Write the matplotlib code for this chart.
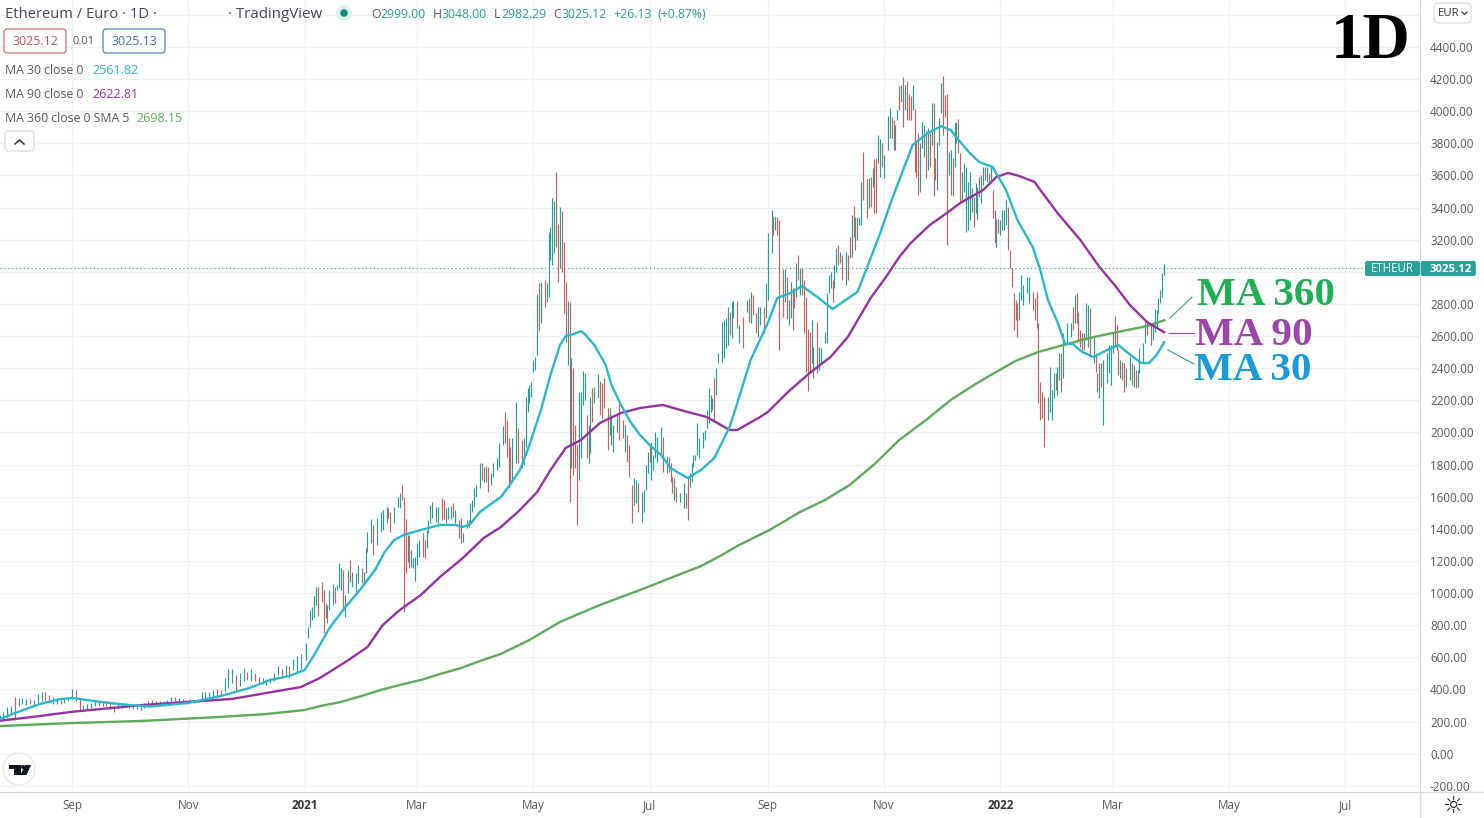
import pandas as pd
import matplotlib
matplotlib.use('Agg')
import matplotlib.pyplot as plt
from matplotlib.lines import Line2D
from matplotlib.patches import Circle, FancyBboxPatch, Polygon
from matplotlib.transforms import Affine2D

# day numbers count from 2020-09-01
start_date = pd.Timestamp('2020-09-01')

bar_day = [
    -38, -36, -34, -32, -30, -28, -26, -24, -22, -20, -18, -16, -14, -12, -10,
    -8, -6, -4, -2, 0, 2, 4, 6, 8, 10, 12, 14, 16, 18, 20,
    22, 24, 26, 28, 30, 32, 34, 36, 38, 40, 42, 44, 46, 48, 50,
    52, 54, 56, 58, 60, 62, 64, 66, 68, 70, 72, 74, 76, 78, 80,
    82, 84, 86, 88, 90, 92, 94, 96, 98, 100, 102, 104, 106, 108, 110,
    112, 114, 116, 118, 120,
    123, 124, 125, 126, 127, 128, 129, 131, 132, 133,
    134, 135, 137, 138, 139, 140, 141, 142, 143, 145,
    146, 147, 149, 150, 152, 153, 154, 155, 157, 158,
    160, 162, 163, 165, 166, 167, 169, 171, 172, 173,
    174, 175, 176, 177, 178, 179, 180, 181, 182, 184,
    185, 186, 187, 188, 189, 191, 192, 194, 195, 196,
    197, 199, 200, 201, 203, 204, 205, 207, 208, 209,
    210, 211, 212, 214, 215, 216, 217, 218, 220, 221,
    223, 224, 226, 227, 228, 229, 230, 231, 233, 234,
    236, 237, 238, 239, 240, 241, 242, 243, 244, 245,
    246, 248, 249, 250, 251, 252, 253, 254, 255, 256,
    257, 258, 259, 260, 261, 262, 263, 264, 265, 266,
    267, 268, 269, 270, 271, 272, 273, 274, 276, 277,
    278, 279, 281, 282, 283, 284, 286, 287, 289, 290,
    291, 292, 294, 295, 296, 297, 299, 300, 301, 302,
    303, 304, 305, 306, 307, 309, 310, 312, 313, 314,
    315, 316, 317, 319, 321, 322, 323, 324, 325, 326,
    327, 328, 329, 331, 332, 333, 334, 335, 336, 337,
    338, 339, 341, 342, 343, 344, 345, 346, 347, 349,
    350, 352, 354, 355, 356, 357, 359, 360, 361, 363,
    364, 365, 367, 368, 369, 370, 371, 373, 374, 375,
    376, 377, 378, 379, 380, 381, 382, 383, 384, 385,
    386, 387, 388, 389, 391, 392, 393, 395, 396, 397,
    398, 399, 400, 401, 402, 403, 404, 406, 407, 408,
    409, 410, 411, 412, 413, 414, 415, 417, 418, 419,
    420, 421, 422, 423, 424, 425, 426, 428, 429, 430,
    431, 432, 433, 434, 435, 436, 437, 438, 439, 440,
    441, 442, 443, 444, 445, 446, 447, 448, 449, 450,
    451, 452, 453, 454, 455, 456, 457, 458, 459, 460,
    461, 462, 463, 464, 465, 466, 467, 468, 469, 470,
    471, 472, 473, 474, 475, 476, 477, 478, 479, 480,
    481, 482, 483, 484, 485, 486, 487, 488, 489, 490,
    491, 492, 493, 494, 495, 496, 497, 498, 499, 501,
    502, 504, 505, 506, 507, 508, 509, 510, 512, 513,
    514, 515, 516, 517, 518, 519, 520, 522, 524, 525,
    526, 527, 528, 529, 530, 531, 532, 533, 534, 536,
    537, 538, 539, 540, 541, 543, 544, 545, 546, 547,
    548, 549, 550, 551, 552, 553, 555, 556, 557, 558,
    559, 560, 562, 563, 564, 566, 567, 568, 569, 570,
    571, 572, 573,
]

bar_high = [
    240, 260, 290, 300, 355, 345, 345, 340, 340, 335, 370, 385, 385, 365, 355,
    345, 335, 340, 355, 405, 395, 340, 305, 310, 315, 335, 330, 330, 325, 320,
    300, 310, 315, 315, 310, 305, 300, 300, 315, 325, 335, 325, 325, 325, 335,
    350, 350, 345, 340, 335, 340, 335, 340, 385, 385, 385, 395, 400, 395, 470,
    530, 525, 490, 505, 535, 510, 525, 500, 480, 470, 465, 470, 500, 545, 530,
    550, 545, 590, 610, 620,
    687, 791, 895, 916, 982, 1040, 1040, 1071, 1019, 940,
    926, 1019, 1056, 1040, 1050, 1185, 1154, 1144, 988, 1144,
    1206, 1133, 1123, 1175, 1154, 1133, 1279, 1382, 1459, 1424,
    1465, 1507, 1517, 1538, 1528, 1507, 1538, 1600, 1621, 1673,
    1600, 1459, 1362, 1362, 1268, 1216, 1227, 1310, 1330, 1372,
    1330, 1392, 1455, 1548, 1569, 1538, 1538, 1594, 1580, 1528,
    1538, 1542, 1563, 1517, 1455, 1465, 1372, 1455, 1455, 1559,
    1580, 1652, 1673, 1812, 1808, 1787, 1791, 1787, 1745, 1812,
    1839, 1932, 2040, 2129, 2077, 1963, 1907, 1963, 2192, 2026,
    1953, 1963, 2223, 2275, 2295, 2316, 2451, 2472, 2860, 2928,
    2939, 2949, 2928, 3250, 3281, 3457, 3441, 3619, 3296, 3406,
    3379, 3184, 2939, 2818, 2814, 2462, 2399, 2046, 1922, 2254,
    2254, 2383, 2368, 2109, 2046, 2223, 2275, 2285, 2362, 2320,
    2306, 2337, 2154, 2154, 2109, 2046, 2119, 2175, 2078, 2046,
    1984, 1922, 1673, 1715, 1704, 1683, 1632, 1642, 1798, 1880,
    1922, 1943, 1860, 2005, 1974, 2036, 1974, 1849, 1849, 1808,
    1725, 1715, 1663, 1621, 1683, 1621, 1715, 1745, 1808, 1860,
    1860, 2057, 1964, 2005, 2015, 2140, 2275, 2233, 2212, 2337,
    2399, 2493, 2690, 2700, 2711, 2783, 2752, 2814, 2818, 2818,
    2669, 2721, 2825, 2835, 2876, 2856, 2741, 2783, 2783, 2779,
    2928, 3240, 3385, 3343, 3343, 3339, 3322, 3015, 3015, 2966,
    2825, 2939, 2897, 2897, 3053, 3105, 3022, 3022, 2949, 2845,
    2642, 2627, 2700, 2534, 2690, 2534, 2524, 2627, 2866, 2980,
    3001, 2949, 3043, 3146, 3167, 3125, 3105, 3125, 3105, 3219,
    3354, 3410, 3343, 3343, 3333, 3561, 3743, 3577, 3582, 3588,
    3644, 3700, 3706, 3851, 3824, 3800, 3727, 3970, 4017, 3961,
    3945, 3914, 4007, 4156, 4163, 4210, 4163, 4190, 4107, 4094,
    4163, 4011, 3820, 3862, 3800, 3934, 3914, 3882, 3893, 3862,
    4053, 4053, 3706, 3810, 3955, 4173, 4219, 4100, 4107, 3748,
    3758, 3706, 3924, 3934, 3949, 3737, 3623, 3675, 3654, 3561,
    3623, 3519, 3467, 3551, 3530, 3592, 3602, 3654, 3654, 3654,
    3613, 3654, 3509, 3384, 3326, 3326, 3322, 3384, 3384, 3447,
    3405, 3135, 3021, 2866, 2824, 2804, 2876, 2980, 2918, 2970,
    2970, 2876, 2835, 2876, 2679, 2316, 2254, 2222, 2222, 2409,
    2264, 2368, 2368, 2409, 2492, 2492, 2617, 2679, 2679, 2783,
    2855, 2866, 2752, 2637, 2617, 2617, 2808, 2793, 2772, 2596,
    2492, 2368, 2430, 2430, 2451, 2492, 2544, 2544, 2627, 2725,
    2669, 2513, 2451, 2440, 2430, 2399, 2471, 2430, 2420, 2388,
    2388, 2523, 2554, 2689, 2696, 2679, 2689, 2766, 2762, 2835,
    2886, 2990, 3048,
]

bar_low = [
    205, 215, 225, 240, 210, 300, 310, 305, 310, 305, 310, 330, 325, 320, 310,
    310, 310, 315, 325, 340, 330, 270, 270, 275, 285, 295, 295, 300, 295, 280,
    260, 285, 285, 290, 285, 280, 280, 275, 285, 295, 305, 305, 300, 300, 305,
    320, 325, 320, 320, 315, 320, 315, 320, 335, 345, 355, 355, 360, 365, 385,
    410, 440, 385, 420, 450, 460, 455, 450, 440, 435, 430, 440, 450, 490, 470,
    490, 470, 520, 500, 530,
    584, 718, 791, 832, 853, 926, 857, 947, 750, 843,
    812, 895, 926, 936, 1019, 1030, 1019, 895, 853, 998,
    1071, 1040, 1009, 1065, 1061, 1050, 1123, 1258, 1310, 1237,
    1299, 1382, 1393, 1434, 1465, 1382, 1434, 1538, 1528, 1580,
    885, 1123, 1195, 1154, 1164, 1154, 1077, 1175, 1227, 1227,
    1216, 1279, 1372, 1434, 1465, 1445, 1434, 1455, 1459, 1438,
    1459, 1459, 1476, 1434, 1341, 1310, 1320, 1403, 1413, 1445,
    1507, 1538, 1600, 1652, 1704, 1694, 1694, 1631, 1673, 1725,
    1766, 1787, 1922, 1932, 1849, 1652, 1683, 1694, 1808, 1808,
    1777, 1797, 1911, 2129, 2181, 2220, 2374, 2389, 2480, 2634,
    2679, 2783, 2814, 2845, 3074, 3043, 3115, 3157, 2939, 3022,
    3001, 2742, 2565, 2420, 1569, 1777, 1735, 1777, 1424, 1704,
    1839, 2171, 2202, 1839, 1808, 1870, 2067, 2181, 2212, 2109,
    2088, 2150, 1891, 1984, 1922, 1880, 2005, 1953, 1964, 1880,
    1818, 1725, 1434, 1548, 1559, 1507, 1445, 1507, 1642, 1746,
    1818, 1704, 1766, 1839, 1818, 1860, 1756, 1746, 1756, 1694,
    1621, 1580, 1569, 1569, 1528, 1528, 1455, 1663, 1694, 1787,
    1829, 1860, 1839, 1901, 1953, 2026, 2057, 2130, 2140, 2067,
    2233, 2430, 2441, 2462, 2524, 2544, 2607, 2586, 2710, 2648,
    2555, 2524, 2752, 2690, 2679, 2731, 2617, 2597, 2669, 2617,
    2710, 2825, 3115, 3229, 3260, 3229, 2513, 2721, 2814, 2704,
    2669, 2710, 2638, 2773, 2845, 2949, 2856, 2856, 2617, 2378,
    2260, 2378, 2430, 2337, 2368, 2389, 2430, 2555, 2555, 2866,
    2897, 2814, 2897, 3001, 3042, 3053, 2949, 2918, 2949, 3084,
    3094, 3219, 3136, 3198, 3291, 3291, 3447, 3333, 3395, 3405,
    3530, 3364, 3364, 3675, 3592, 3654, 3582, 3758, 3831, 3831,
    3758, 3758, 3945, 4007, 4059, 3899, 4007, 3945, 3945, 3945,
    4007, 3623, 3592, 3478, 3499, 3768, 3717, 3582, 3634, 3654,
    3789, 3472, 3571, 3509, 3789, 3986, 3851, 3965, 3167, 3602,
    3478, 3472, 3654, 3800, 3737, 3426, 3447, 3499, 3250, 3260,
    3322, 3374, 3281, 3364, 3322, 3467, 3426, 3540, 3571, 3561,
    3550, 3550, 3333, 3177, 3156, 3239, 3229, 3260, 3260, 3291,
    3135, 3021, 2907, 2637, 2700, 2596, 2700, 2824, 2793, 2866,
    2804, 2762, 2700, 2648, 2181, 2077, 2088, 1911, 2077, 2129,
    2077, 2212, 2264, 2233, 2326, 2254, 2337, 2554, 2596, 2637,
    2679, 2679, 2575, 2534, 2513, 2513, 2575, 2534, 2471, 2430,
    2378, 2254, 2212, 2285, 2046, 2305, 2368, 2295, 2492, 2544,
    2513, 2357, 2337, 2326, 2254, 2285, 2326, 2295, 2285, 2274,
    2285, 2368, 2430, 2554, 2606, 2544, 2575, 2627, 2658, 2741,
    2803, 2845, 2982,
]

# 1 = closed up (teal), 0 = closed down (red)
bar_up = [
    1, 1, 1, 1, 0, 1, 1, 1, 0, 1, 1, 1, 0, 0, 1,
    1, 0, 1, 1, 1, 0, 0, 1, 1, 1, 1, 0, 1, 0, 0,
    0, 1, 0, 1, 0, 0, 1, 1, 1, 1, 1, 0, 0, 1, 1,
    1, 0, 1, 0, 0, 1, 0, 1, 1, 1, 1, 1, 0, 0, 1,
    1, 1, 0, 1, 1, 0, 1, 0, 0, 1, 1, 1, 1, 1, 0,
    1, 0, 1, 1, 1,
    1, 1, 1, 1, 1, 1, 0, 0, 0, 0,
    1, 1, 1, 0, 1, 1, 1, 0, 1, 1,
    0, 1, 1, 1, 0, 1, 1, 1, 1, 0,
    1, 1, 1, 1, 0, 0, 1, 1, 1, 0,
    0, 0, 1, 0, 1, 1, 1, 1, 1, 0,
    0, 1, 1, 1, 1, 1, 1, 0, 0, 1,
    1, 1, 0, 1, 0, 0, 1, 1, 1, 1,
    1, 1, 1, 1, 0, 1, 0, 0, 1, 1,
    1, 1, 1, 0, 0, 0, 0, 1, 1, 0,
    0, 1, 1, 1, 1, 1, 1, 1, 1, 0,
    1, 0, 1, 1, 1, 1, 1, 0, 0, 1,
    0, 0, 0, 1, 0, 1, 0, 0, 0, 1,
    1, 1, 1, 0, 1, 1, 0, 1, 1, 0,
    0, 0, 0, 1, 1, 1, 1, 0, 0, 1,
    0, 0, 0, 1, 1, 0, 1, 1, 1, 1,
    0, 1, 1, 1, 1, 1, 0, 1, 0, 0,
    0, 1, 0, 1, 1, 0, 0, 1, 1, 1,
    1, 1, 1, 1, 1, 1, 1, 1, 1, 0,
    1, 1, 1, 1, 1, 1, 0, 1, 1, 0,
    1, 0, 1, 0, 1, 0, 0, 1, 1, 0,
    1, 1, 1, 0, 1, 0, 0, 0, 1, 0,
    1, 1, 0, 0, 1, 0, 1, 0, 0, 0,
    0, 0, 1, 1, 0, 1, 1, 1, 1, 1,
    1, 0, 1, 1, 0, 1, 0, 1, 0, 0,
    1, 0, 0, 1, 1, 1, 0, 0, 1, 0,
    1, 0, 0, 1, 1, 0, 1, 1, 1, 0,
    0, 1, 1, 0, 1, 0, 1, 0, 0, 0,
    1, 0, 0, 0, 1, 1, 1, 0, 1, 0,
    1, 0, 0, 1, 1, 1, 0, 0, 0, 1,
    1, 0, 1, 1, 0, 0, 1, 1, 1, 1,
    1, 1, 0, 1, 1, 0, 1, 1, 0, 1,
    0, 1, 0, 0, 1, 0, 1, 1, 1, 1,
    0, 0, 0, 0, 0, 0, 1, 1, 1, 1,
    1, 0, 0, 0, 0, 0, 0, 0, 1, 1,
    1, 1, 0, 1, 1, 0, 1, 1, 1, 0,
    1, 0, 0, 0, 0, 1, 1, 1, 0, 1,
    0, 0, 1, 0, 1, 1, 1, 1, 1, 0,
    0, 0, 1, 0, 0, 1, 1, 0, 1, 0,
    1, 1, 1, 1, 0, 0, 1, 1, 1, 1,
    1, 1, 1,
]

ma30_day = [-38, -27, -17, -6, 0, 15, 30, 41, 61, 78, 93, 104, 114, 122, 127, 135, 143, 151, 159, 164,
            169, 174, 183, 193, 201, 205, 209, 214, 219, 225, 230, 235, 240, 246, 251, 256, 259, 263, 267, 269,
            274, 280, 283, 288, 293, 298, 303, 309, 314, 323, 330, 337, 345, 350, 356, 365, 370, 377, 383, 391,
            399, 412, 417, 424, 430, 436, 441, 449, 456, 461, 466, 471, 476, 483, 490, 496, 504, 508, 512, 517,
            521, 525, 530, 536, 543, 549, 554, 561, 565, 569, 573]
ma30_value = [216, 266, 309, 340, 347, 322, 303, 294, 316, 359, 409, 459, 484, 521, 614, 782, 907, 1019, 1144, 1256,
              1330, 1362, 1393, 1424, 1424, 1411, 1430, 1505, 1548, 1598, 1679, 1766, 1922, 2140, 2357, 2544, 2600, 2612, 2631, 2612,
              2544, 2420, 2295, 2171, 2065, 1984, 1922, 1860, 1778, 1716, 1766, 1841, 2034, 2220, 2451, 2681, 2837, 2868, 2911, 2843,
              2768, 2874, 3023, 3241, 3446, 3633, 3789, 3863, 3907, 3882, 3808, 3739, 3683, 3652, 3509, 3322, 3154, 3011, 2824, 2687,
              2550, 2550, 2501, 2469, 2513, 2544, 2494, 2432, 2432, 2482, 2562]

ma90_day = [-38, -20, 0, 22, 37, 60, 84, 102, 120, 130, 145, 155, 163, 172, 183, 193, 205, 216, 225, 235,
            244, 251, 259, 267, 277, 288, 298, 310, 323, 333, 345, 349, 361, 365, 375, 387, 398, 407, 419, 427, 434,
            440, 450, 459, 466, 478, 485, 491, 497, 505, 508, 517, 529, 539, 547, 555, 564, 573]
ma90_value = [205, 230, 261, 286, 303, 322, 341, 378, 415, 471, 583, 664, 801, 895, 988, 1100, 1218, 1343, 1411, 1517,
              1629, 1766, 1903, 1953, 2059, 2121, 2152, 2171, 2127, 2096, 2015, 2015, 2096, 2127, 2245, 2370, 2470, 2594, 2837, 2967, 3092,
              3179, 3291, 3366, 3428, 3509, 3590, 3615, 3596, 3559, 3509, 3366, 3198, 3030, 2917, 2793, 2687, 2623]

ma360_day = [-38, 0, 37, 78, 102, 122, 130, 141, 151, 162, 172, 183, 193, 204, 214, 225, 240, 256, 267, 277,
             288, 298, 314, 330, 340, 350, 366, 382, 395, 408, 421, 434, 448, 461, 474, 482, 495, 507, 522, 534,
             546, 564, 573]
ma360_value = [172, 191, 204, 229, 247, 272, 296, 322, 356, 397, 428, 459, 496, 533, 577, 621, 708, 820, 876, 926,
               975, 1019, 1094, 1168, 1231, 1299, 1393, 1505, 1579, 1673, 1803, 1953, 2077, 2202, 2301, 2357, 2445, 2501, 2550, 2588,
               2619, 2662, 2698]

last_price = 3025.12
price_ticks = list(range(-200, 4800, 200))
# these two labels sit under the price tag and the currency box
hidden_ticks = [3000, 4600]
date_ticks = ['2020-09-01', '2020-11-01', '2021-01-01', '2021-03-01', '2021-05-01', '2021-07-01',
              '2021-09-01', '2021-11-01', '2022-01-01', '2022-03-01', '2022-05-01', '2022-07-01']
date_labels = ['Sep', 'Nov', '2021', 'Mar', 'May', 'Jul', 'Sep', 'Nov', '2022', 'Mar', 'May', 'Jul']

TEAL = '#2b9c93'
RED = '#c4625f'
C30 = '#2cb6c9'
C90 = '#93339f'
C360 = '#5fa85c'
GREY = '#55585f'

plt.rcParams['font.family'] = ['Open Sans', 'DejaVu Sans']

W, H = 1484, 818
fig = plt.figure(figsize=(W / 100, H / 100), dpi=100, facecolor='white')
ax = fig.add_axes([0, (H - 792) / H, 1420 / W, 792 / H])
# overlay items are placed in screen pixels, y going down
px = Affine2D().scale(1 / W, -1 / H).translate(0, 1) + fig.transFigure


def to_dates(days):
    return start_date + pd.to_timedelta(days, unit='D')


def label(x, y, s, color=GREY, size=8.8, **kw):
    kw.setdefault('va', 'center')
    fig.text(x, y, s, transform=px, color=color, fontsize=size, **kw)


def box(x0, y0, x1, y1, edge, face='white', r=3):
    fig.add_artist(FancyBboxPatch((x0, y0), x1 - x0, y1 - y0, boxstyle=f'round,pad=0,rounding_size={r}',
                                  transform=px, edgecolor=edge, facecolor=face, linewidth=0.8))


def stroke(xs, ys, color, lw=0.8):
    fig.add_artist(Line2D(xs, ys, transform=px, color=color, linewidth=lw))


# chart
ax.vlines(to_dates(bar_day), bar_low, bar_high, colors=[TEAL if u else RED for u in bar_up], linewidth=0.85, zorder=2)
ax.plot(to_dates(ma360_day), ma360_value, color=C360, linewidth=1.7, zorder=3)
ax.plot(to_dates(ma90_day), ma90_value, color=C90, linewidth=1.7, zorder=4)
ax.plot(to_dates(ma30_day), ma30_value, color=C30, linewidth=1.7, zorder=5)
ax.axhline(last_price, color=TEAL, linewidth=0.8, linestyle=(0, (1, 2.5)), zorder=1)

ax.set_xlim(start_date + pd.Timedelta(days=-37.8), start_date + pd.Timedelta(days=707.2))
ax.set_ylim(-238.4, 4691.7)
ax.set_xticks(pd.to_datetime(date_ticks))
ax.set_xticklabels(date_labels, color=GREY, fontsize=8.4)
for t in ax.get_xticklabels():
    if t.get_text().startswith('20'):
        t.set_fontweight('bold')
        t.set_color('#333333')
ax.set_yticks(price_ticks)
ax.set_yticklabels(['' if p in hidden_ticks else f'{p:.2f}' for p in price_ticks], color=GREY, fontsize=8.4)
ax.tick_params(axis='y', left=False, labelleft=False, right=False, labelright=True, length=0, pad=7.2)
ax.tick_params(axis='x', length=0, pad=5)
ax.grid(color='#f0f1f6', linewidth=0.9, zorder=0)
ax.set_axisbelow(True)
for side in ['left', 'top']:
    ax.spines[side].set_visible(False)
for side in ['right', 'bottom']:
    ax.spines[side].set_color('#d8dae0')
stroke([1420, 1420], [792, 818], '#d8dae0', 1)
stroke([1420, 1484], [792, 792], '#d8dae0', 1)

# header
label(5, 14.5, 'Ethereum / Euro · 1D ·', color='#444750', size=10.6)
label(228, 14.5, '· TradingView', color='#444750', size=10.9)
fig.add_artist(Circle((344, 13), 8, transform=px, facecolor='#dcf1ed', edgecolor='none'))
fig.add_artist(Circle((344, 13), 3.8, transform=px, facecolor='#118a78', edgecolor='none'))
for x, s, c in [(371, 'O', GREY), (380, '2999.00', TEAL), (433, 'H', GREY), (441, '3048.00', TEAL),
                (494, 'L', GREY), (501, '2982.29', TEAL), (553, 'C', GREY), (561, '3025.12', TEAL),
                (613, '+26.13', TEAL), (658, '(+0.87%)', TEAL)]:
    label(x, 15, s, color=c, size=8.8)

box(4, 29, 66, 53, '#cf5b5f')
label(35, 41.5, '3025.12', color='#c9555a', size=8.9, ha='center')
label(84, 41.5, '0.01', color=GREY, size=8, ha='center')
box(103, 29, 165, 53, '#3f6eb5')
label(134, 41.5, '3025.13', color='#3f6eb5', size=8.9, ha='center')

label(5, 70, 'MA 30 close 0')
label(92, 70, '2561.82', color=C30, size=9)
label(5, 94, 'MA 90 close 0')
label(92, 94, '2622.81', color=C90, size=9)
label(5, 118, 'MA 360 close 0 SMA 5')
label(136, 118, '2698.15', color='#5aab5a', size=9)
box(5, 131, 34, 151, '#d4d6dc')
stroke([15, 19.5, 24], [144, 140, 144], '#333333', 1.1)

# top right corner
label(1331, 58, '1D', color='black', size=47, family='Liberation Serif', fontweight='bold', va='baseline')
box(1434, 3, 1471, 23, '#d4d6dc', r=5)
label(1438, 13, 'EUR', color='#333333', size=8.2)
stroke([1462, 1464.5, 1467], [12, 14.5, 12], '#333333', 0.9)

# price tags on the axis
fig.add_artist(FancyBboxPatch((1365, 261), 55, 15, boxstyle='round,pad=0,rounding_size=2', transform=px,
                              facecolor='#2ba197', edgecolor='none'))
fig.add_artist(FancyBboxPatch((1420.8, 261), 55, 15, boxstyle='round,pad=0,rounding_size=2', transform=px,
                              facecolor='#2ba197', edgecolor='none'))
label(1392, 269, 'ETHEUR', color='white', size=8.3, ha='center')
label(1451, 269, '3025.12', color='white', size=8.2, ha='center', fontweight='bold')

# hand-written MA labels with their pointers
for x, y, s, c in [(1197, 305, 'MA 360', '#1fae53'), (1195, 345, 'MA 90', '#9c44a8'), (1194, 380, 'MA 30', '#1a9ad6')]:
    label(x, y, s, color=c, size=29.6, family='Liberation Serif', fontweight='bold', va='baseline')
stroke([1170, 1192], [318, 297], '#3f9f6a')
stroke([1169, 1194], [333, 333], '#9c44a8')
stroke([1168, 1194], [350, 364], '#2f8fa8')

# TradingView logo
fig.add_artist(Circle((19, 769), 16, transform=px, facecolor='white', edgecolor='#e4e6ec', linewidth=0.8))
fig.add_artist(Polygon([(9, 765), (20.5, 765), (20.5, 775), (14, 775), (14, 769), (9, 769)], transform=px,
                       facecolor='#131722', edgecolor='none'))
fig.add_artist(Circle((23, 767), 2, transform=px, facecolor='#131722', edgecolor='none'))
fig.add_artist(Polygon([(25, 765), (31, 765), (26.5, 775), (20.5, 775)], transform=px, facecolor='#131722', edgecolor='none'))

# settings gear
label(1453, 805.5, '☼', color='#222222', size=17, ha='center', family='DejaVu Sans')

fig.savefig('out.png', dpi=100)
